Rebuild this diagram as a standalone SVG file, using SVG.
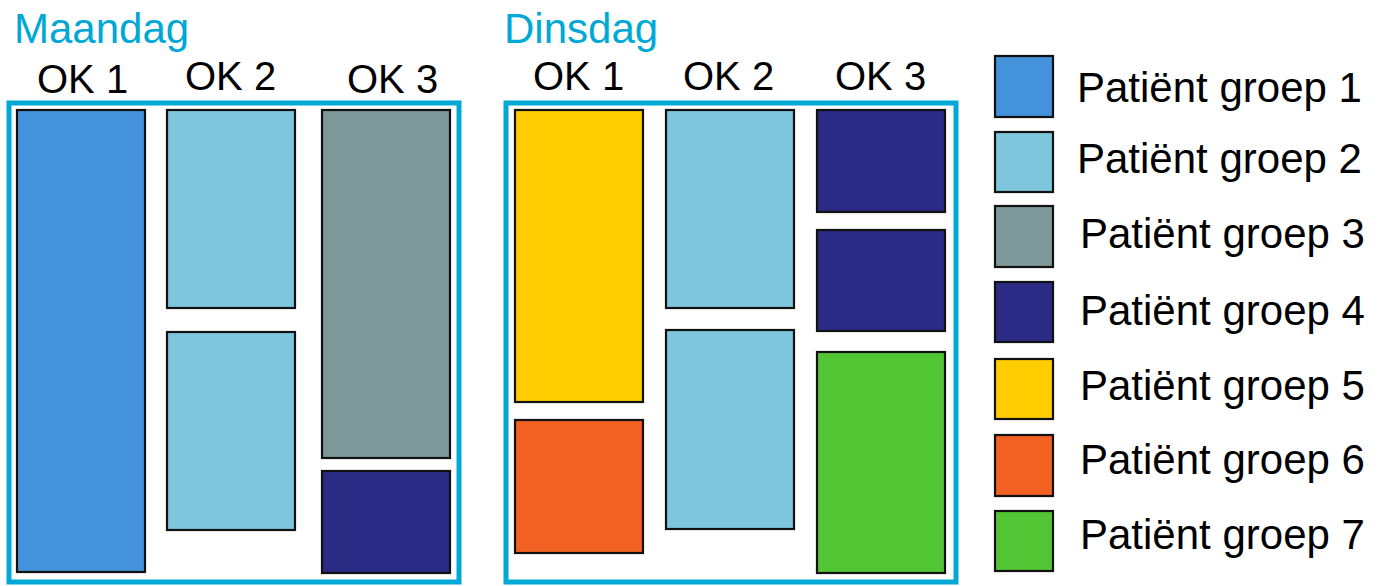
<svg xmlns="http://www.w3.org/2000/svg" width="1381" height="586" viewBox="0 0 1381 586">
<style>
.t{font-family:"Liberation Sans",Arial,sans-serif;fill:#000}
.day{font-family:"Liberation Sans",Arial,sans-serif;fill:#00a8d6;font-size:42px}
.ok{font-size:40px}
.lg{font-size:42px}
.frame{fill:none;stroke:#00a8d6;stroke-width:5}
.b{stroke:#111;stroke-width:2.2}
.g1{fill:#4592dc}.g2{fill:#7ec6dd}.g3{fill:#7e9799}.g4{fill:#2b2a84}.g5{fill:#ffcd00}.g6{fill:#f26122}.g7{fill:#52c534}
</style>
<rect width="1381" height="586" fill="#fff"/>
<g id="maandag">
<text class="day" x="14" y="43">Maandag</text>
<text class="t ok" x="37" y="93">OK 1</text>
<text class="t ok" x="185" y="90">OK 2</text>
<text class="t ok" x="347" y="93">OK 3</text>
<rect class="frame" x="9" y="103" width="450" height="479"/>
<rect id="m-ok1-a" class="b g1" x="17" y="110" width="128" height="462"/>
<rect id="m-ok2-a" class="b g2" x="167" y="110" width="128" height="198"/>
<rect id="m-ok2-b" class="b g2" x="167" y="332" width="128" height="198"/>
<rect id="m-ok3-a" class="b g3" x="322" y="110" width="128" height="348"/>
<rect id="m-ok3-b" class="b g4" x="322" y="471" width="128" height="102"/>
</g>
<g id="dinsdag">
<text class="day" x="504" y="43">Dinsdag</text>
<text class="t ok" x="533" y="90">OK 1</text>
<text class="t ok" x="683" y="90">OK 2</text>
<text class="t ok" x="835" y="90">OK 3</text>
<rect class="frame" x="506" y="103" width="450" height="479"/>
<rect id="d-ok1-a" class="b g5" x="515" y="110" width="128" height="292"/>
<rect id="d-ok1-b" class="b g6" x="515" y="420" width="128" height="133"/>
<rect id="d-ok2-a" class="b g2" x="666" y="110" width="128" height="198"/>
<rect id="d-ok2-b" class="b g2" x="666" y="330" width="128" height="199"/>
<rect id="d-ok3-a" class="b g4" x="817" y="110" width="128" height="102"/>
<rect id="d-ok3-b" class="b g4" x="817" y="230" width="128" height="101"/>
<rect id="d-ok3-c" class="b g7" x="817" y="352" width="128" height="221"/>
</g>
<g id="legend">
<g id="lg1"><rect class="b g1" x="995" y="56" width="58" height="61"/><text class="t lg" x="1077" y="102">Patiënt groep 1</text></g>
<g id="lg2"><rect class="b g2" x="995" y="132" width="58" height="60"/><text class="t lg" x="1077" y="173">Patiënt groep 2</text></g>
<g id="lg3"><rect class="b g3" x="995" y="206" width="58" height="61"/><text class="t lg" x="1080" y="248">Patiënt groep 3</text></g>
<g id="lg4"><rect class="b g4" x="995" y="282" width="58" height="60"/><text class="t lg" x="1080" y="325">Patiënt groep 4</text></g>
<g id="lg5"><rect class="b g5" x="995" y="359" width="58" height="60"/><text class="t lg" x="1080" y="400">Patiënt groep 5</text></g>
<g id="lg6"><rect class="b g6" x="995" y="435" width="58" height="61"/><text class="t lg" x="1080" y="474">Patiënt groep 6</text></g>
<g id="lg7"><rect class="b g7" x="995" y="511" width="58" height="60"/><text class="t lg" x="1080" y="549">Patiënt groep 7</text></g>
</g>
<g id="connectors"/>
</svg>
